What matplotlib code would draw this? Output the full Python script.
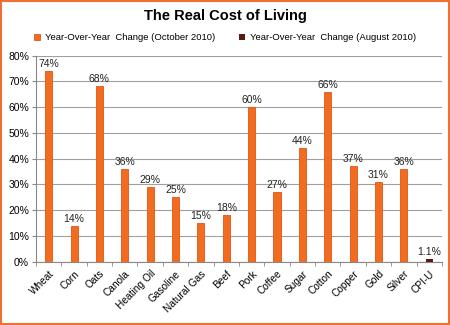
import numpy as np
import matplotlib.pyplot as plt
from matplotlib.patches import Rectangle

categories = ["Wheat", "Corn", "Oats", "Canola", "Heating Oil", "Gasoline",
              "Natural Gas", "Beef", "Pork", "Coffee", "Sugar", "Cotton",
              "Copper", "Gold", "Silver", "CPI-U"]
october = [74, 14, 68, 36, 29, 25, 15, 18, 60, 27, 44, 66, 37, 31, 36, None]
august = [None] * 15 + [1.1]
labels = ["74%", "14%", "68%", "36%", "29%", "25%", "15%", "18%", "60%",
          "27%", "44%", "66%", "37%", "31%", "36%", "1.1%"]

plt.rcParams['font.family'] = ['Liberation Sans', 'DejaVu Sans']

fig = plt.figure(figsize=(4.5, 3.25), dpi=100)
ax = fig.add_axes([0.08, 0.195, 0.902, 0.634])

x = np.arange(len(categories))
orange = "#F26C1F"
dark = "#5A1A10"

oct_x = [i for i, v in enumerate(october) if v is not None]
oct_v = [v for v in october if v is not None]
aug_x = [i for i, v in enumerate(august) if v is not None]
aug_v = [v for v in august if v is not None]

ax.bar(oct_x, oct_v, width=0.28, color=orange, edgecolor="#E0561A",
       linewidth=0.6, zorder=3, label="Year-Over-Year  Change (October 2010)")
ax.bar(aug_x, aug_v, width=0.28, color=dark, zorder=3,
       label="Year-Over-Year  Change (August 2010)")

vals = [o if o is not None else a for o, a in zip(october, august)]
for i, (v, lab) in enumerate(zip(vals, labels)):
    ax.text(i, v + 0.8, lab, ha="center", va="bottom", fontsize=7.5,
            color="#222222")

ax.set_xlim(-0.5, len(categories) - 0.5)
ax.set_ylim(0, 80)
ax.set_yticks(np.arange(0, 81, 10))
ax.set_yticklabels(["%d%%" % t for t in range(0, 81, 10)], fontsize=7.5)
ax.yaxis.grid(True, color="#A0A0A0", linewidth=0.8, zorder=0)
ax.tick_params(axis="y", length=3, color="#888888", pad=2)

ax.set_xticks(x)
ax.set_xticklabels(categories, rotation=45, ha="right",
                   rotation_mode="anchor", fontsize=7.3)
ax.tick_params(axis="x", length=0, pad=5)
ax.set_xticks(np.arange(-0.5, len(categories), 1), minor=True)
ax.tick_params(axis="x", which="minor", length=3, color="#888888")

for s in ["top", "right"]:
    ax.spines[s].set_visible(False)
ax.spines["left"].set_color("#888888")
ax.spines["bottom"].set_color("#888888")

fig.text(0.5, 0.952, "The Real Cost of Living", ha="center", va="center",
         fontsize=10.5, fontweight="bold")
fig.legend(loc="center", bbox_to_anchor=(0.5, 0.885), ncol=2, frameon=False,
           fontsize=6.8, handlelength=0.6, handleheight=0.6,
           columnspacing=2.6, handletextpad=0.5)

fig.patches.append(Rectangle((0.003, 0.004), 0.994, 0.992,
                             transform=fig.transFigure, fill=False,
                             edgecolor="#F07030", linewidth=1.5))

fig.savefig("out.png", dpi=100)
